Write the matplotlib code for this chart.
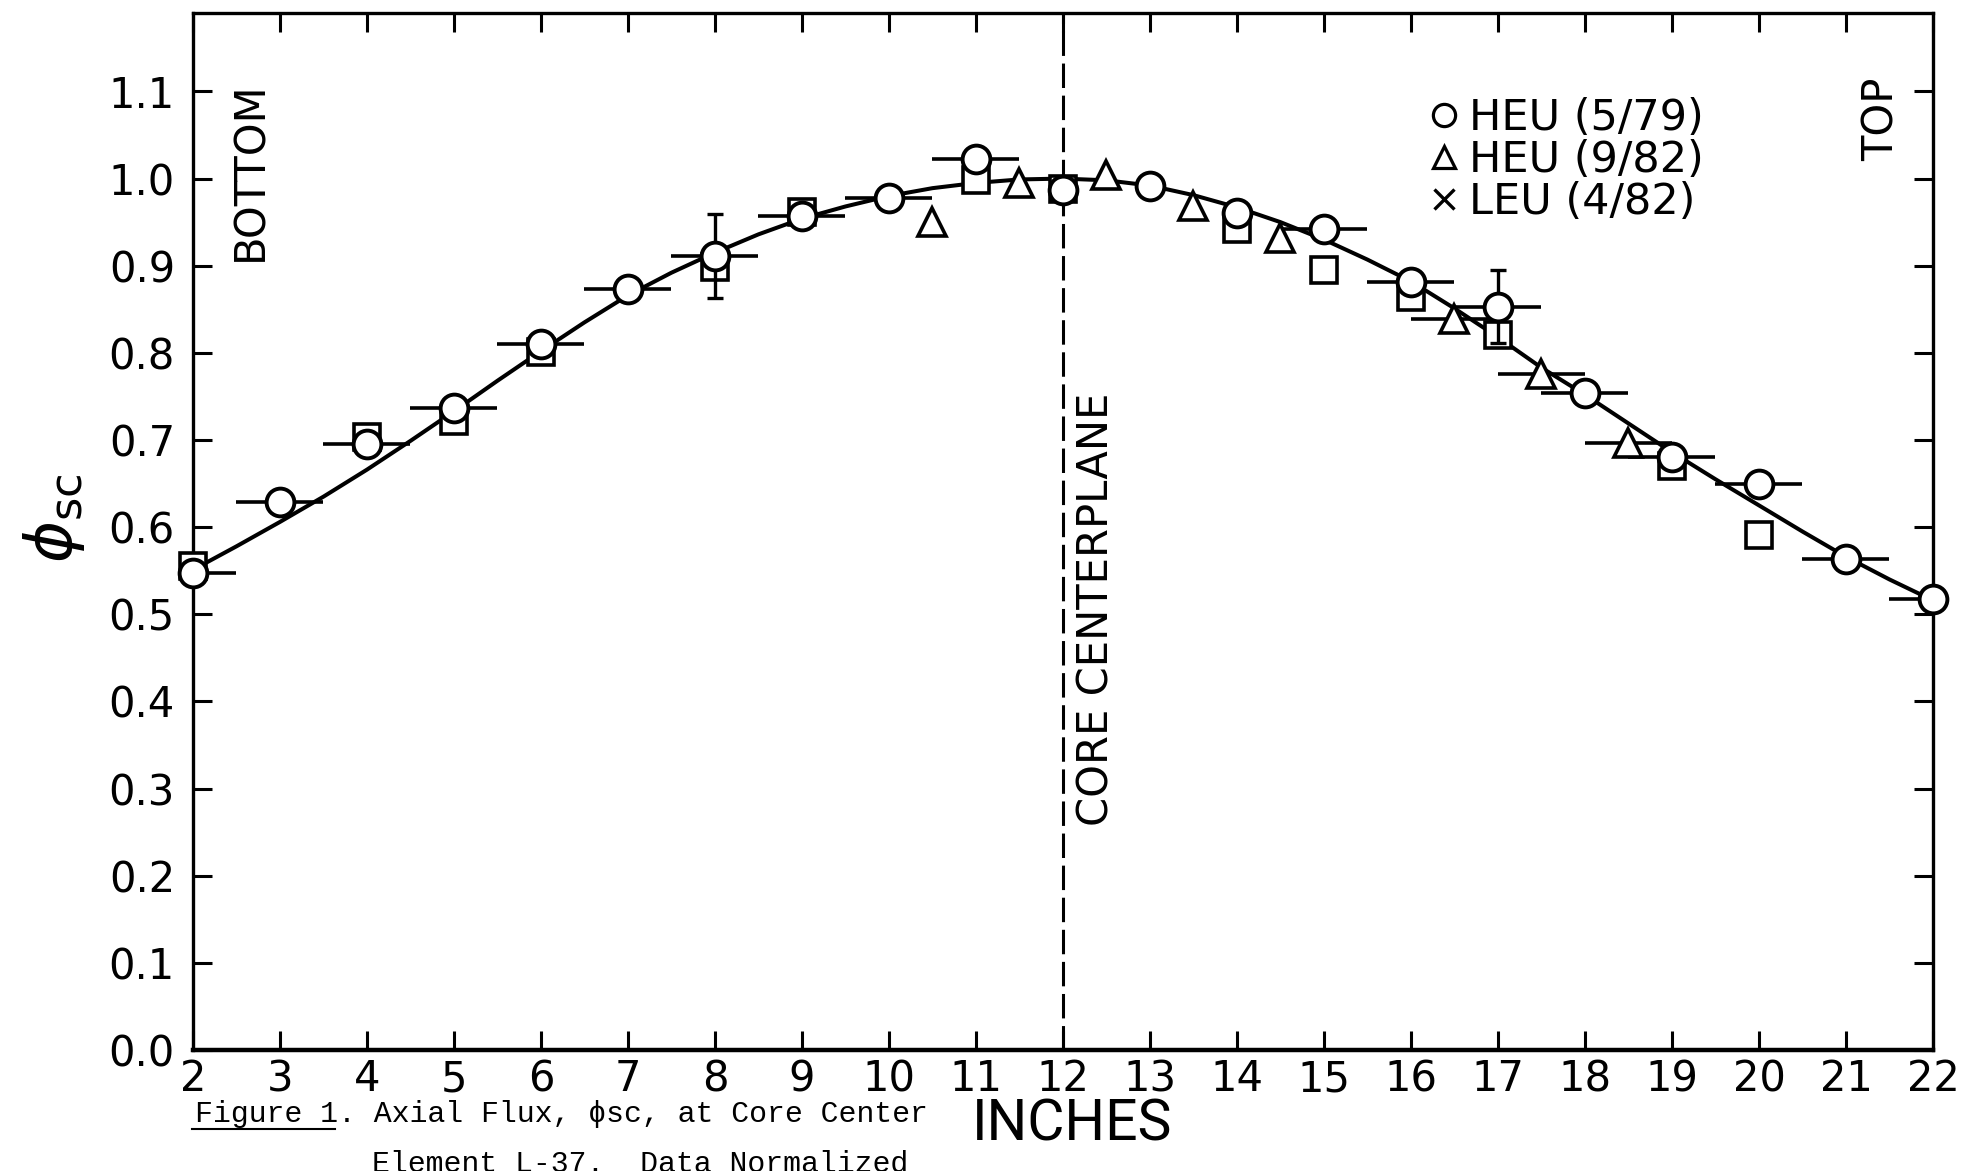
import matplotlib
matplotlib.use('Agg')
import matplotlib.pyplot as plt
from matplotlib.lines import Line2D
from matplotlib import font_manager
import numpy as np

# HEU (5/79) measurements: position (inches), normalized flux, error bars
inch_circle = [2, 3, 4, 5, 6, 7, 8, 9, 10, 11, 12, 13, 14, 15, 16, 17, 18, 19, 20, 21, 22]
flux_circle = [0.547, 0.629, 0.695, 0.737, 0.810, 0.873, 0.911, 0.957, 0.978, 1.022, 0.987,
               0.991, 0.961, 0.942, 0.881, 0.853, 0.754, 0.681, 0.649, 0.564, 0.518]
xerr_circle = [0.5, 0.5, 0.5, 0.5, 0.5, 0.5, 0.5, 0.5, 0.5, 0.5, 0.0,
               0.0, 0.0, 0.5, 0.5, 0.5, 0.5, 0.5, 0.5, 0.5, 0.5]
yerr_circle = [0.0, 0.0, 0.0, 0.0, 0.0, 0.0, 0.048, 0.0, 0.0, 0.0, 0.0,
               0.0, 0.0, 0.0, 0.0, 0.042, 0.0, 0.0, 0.0, 0.0, 0.0]

# HEU (9/82) measurements
inch_tri = [10.5, 11.5, 12.5, 13.5, 14.5, 16.5, 17.5, 18.5]
flux_tri = [0.950, 0.995, 1.004, 0.969, 0.932, 0.839, 0.776, 0.696]
xerr_tri = [0.0, 0.0, 0.0, 0.0, 0.0, 0.5, 0.5, 0.5]

# square symbols
inch_square = [2, 4, 5, 6, 8, 9, 11, 12, 14, 15, 16, 17, 19, 20]
flux_square = [0.556, 0.703, 0.722, 0.801, 0.899, 0.962, 0.998, 0.988,
               0.942, 0.895, 0.864, 0.820, 0.670, 0.591]

# fitted axial shape
inch_fit = [2.0, 2.5, 3.0, 3.5, 4.0, 4.5, 5.0, 5.5, 6.0, 6.5, 7.0, 7.5, 8.0, 8.5,
            9.0, 9.5, 10.0, 10.5, 11.0, 11.5, 12.0, 12.5, 13.0, 13.5, 14.0, 14.5,
            15.0, 15.5, 16.0, 16.5, 17.0, 17.5, 18.0, 18.5, 19.0, 19.5, 20.0,
            20.5, 21.0, 21.5, 22.0]
flux_fit = [0.551, 0.578, 0.606, 0.635, 0.666, 0.699, 0.733, 0.768, 0.802, 0.835,
            0.866, 0.892, 0.915, 0.936, 0.954, 0.968, 0.980, 0.989, 0.995, 0.999,
            1.000, 0.998, 0.992, 0.981, 0.967, 0.950, 0.930, 0.907, 0.882, 0.851,
            0.818, 0.783, 0.752, 0.719, 0.686, 0.655, 0.625, 0.595, 0.566, 0.540,
            0.516]

x_ticks = list(range(2, 23))
y_ticks = [0.0, 0.1, 0.2, 0.3, 0.4, 0.5, 0.6, 0.7, 0.8, 0.9, 1.0, 1.1]
y_tick_labels = ['0.0', '0.1', '0.2', '0.3', '0.4', '0.5', '0.6', '0.7', '0.8', '0.9', '1.0', '1.1']
legend_labels = ['HEU (5/79)', 'HEU (9/82)', 'LEU (4/82)']

plt.rcParams['font.family'] = 'DejaVu Sans'
names = {f.name for f in font_manager.fontManager.ttflist}
narrow = 'Liberation Sans Narrow' if 'Liberation Sans Narrow' in names else 'Roboto'

fig = plt.figure(figsize=(19.69, 11.71), dpi=100)
ax = fig.add_axes([0.098, 0.1033, 0.8837, 0.8856])

# core centerplane
ax.axvline(12, color='k', lw=2.2, ls=(0, (8, 2.5)), zorder=1)

ax.plot(inch_fit, flux_fit, color='k', lw=2.9, zorder=2)

ax.plot(inch_square, flux_square, 's', ms=19, mfc='white', mec='k', mew=2.6,
        clip_on=False, zorder=3)

cx, cy = np.array(inch_circle), np.array(flux_circle)
cxe, cye = np.array(xerr_circle), np.array(yerr_circle)
hb = cxe > 0
ax.errorbar(cx[hb], cy[hb], xerr=cxe[hb], fmt='none', ecolor='k',
            elinewidth=2.6, capsize=0, zorder=4)
vb = cye > 0
ax.errorbar(cx[vb], cy[vb], yerr=cye[vb], fmt='none', ecolor='k',
            elinewidth=2.4, capsize=5.5, capthick=2.4, zorder=4)

tx, ty, txe = np.array(inch_tri), np.array(flux_tri), np.array(xerr_tri)
tb = txe > 0
ax.errorbar(tx[tb], ty[tb], xerr=txe[tb], fmt='none', ecolor='k',
            elinewidth=2.6, capsize=0, zorder=4)

ax.plot(inch_circle, flux_circle, 'o', ms=20, mfc='white', mec='k', mew=2.8,
        clip_on=False, zorder=5)
ax.plot(inch_tri, flux_tri, '^', ms=20, mfc='white', mec='k', mew=2.6,
        clip_on=False, zorder=5)

ax.set_xlim(2, 22)
ax.set_ylim(0, 1.19)
ax.set_xticks(x_ticks)
ax.set_xticklabels([str(t) for t in x_ticks])
ax.set_yticks(y_ticks)
ax.set_yticklabels(y_tick_labels)
ax.tick_params(direction='in', length=14, width=2.2, top=True, right=True,
               labelsize=30)
ax.tick_params(axis='x', pad=6)
ax.tick_params(axis='y', pad=13)
for s in ax.spines.values():
    s.set_linewidth(2.4)
ax.spines['bottom'].set_linewidth(3.2)

ax.text(2.655, 1.009, 'BOTTOM', rotation=90, ha='center', va='center', fontsize=30)
ax.text(21.41, 1.068, 'TOP', rotation=90, ha='center', va='center', fontsize=30)
ax.text(12.38, 0.506, 'CORE CENTERPLANE', rotation=90, ha='center', va='center', fontsize=30)

handles = [Line2D([], [], ls='none', marker='o', ms=16, mfc='white', mec='k', mew=2.3),
           Line2D([], [], ls='none', marker='^', ms=16, mfc='white', mec='k', mew=2.3),
           Line2D([], [], ls='none', marker='x', ms=15, mec='k', mew=2.4)]
ax.legend(handles, legend_labels, loc='upper left', bbox_to_anchor=(0.7126, 0.919),
          frameon=False, fontsize=31, handlelength=0.5, handletextpad=0.35,
          labelspacing=0.0, borderpad=0, borderaxespad=0)

ax.set_ylabel(r'$\phi_{\mathrm{sc}}$', fontsize=46)
ax.yaxis.set_label_coords(-0.061, 0.513)
ax.set_xlabel('INCHES', fontsize=41, family=narrow)
ax.xaxis.set_label_coords(0.505, -0.046)

# caption typed below the plot
mono = ['Liberation Mono', 'DejaVu Sans Mono']
fig.text(195 / 1969, 1 - 1122 / 1171, 'Figure 1. Axial Flux, \u03d5sc, at Core Center',
         family=mono, fontsize=21.5, va='baseline')
fig.text(372 / 1969, 1 - 1172 / 1171, 'Element L-37.  Data Normalized',
         family=mono, fontsize=21.5, va='baseline')
fig.add_artist(Line2D([192 / 1969, 335 / 1969], [1 - 1129 / 1171] * 2,
                      transform=fig.transFigure, color='k', lw=1.5))

fig.savefig('out.png', dpi=100)
